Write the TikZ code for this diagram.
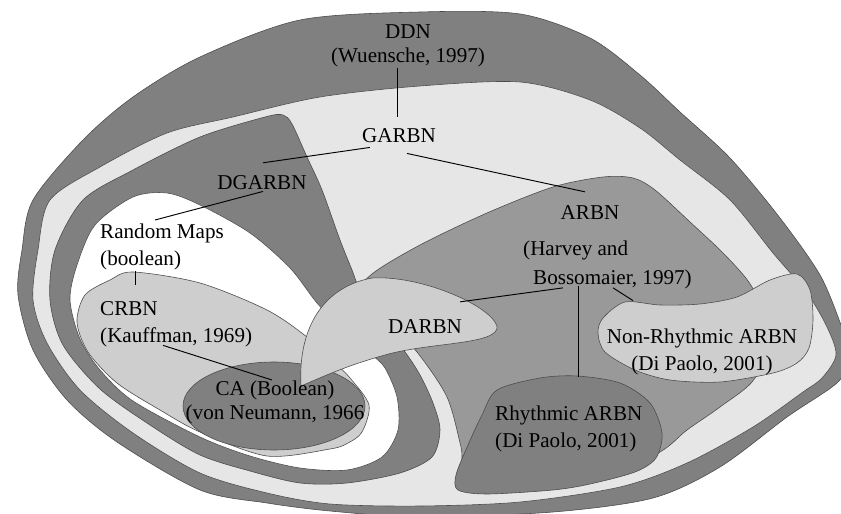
\documentclass[tikz,border=0pt]{standalone}
\usepackage{fontspec}
\setmainfont{Liberation Serif}
\usetikzlibrary{calc}

\definecolor{shadedark}{RGB}{128,128,128}
\definecolor{shademid}{RGB}{153,153,153}
\definecolor{shadepale}{RGB}{206,206,206}
\definecolor{shadelight}{RGB}{230,230,230}

\begin{document}
\begin{tikzpicture}[x=0.03cm, y=-0.03cm,
  blob/.style={draw=black!70, line width=0.5pt},
  lbl/.style={font=\fontsize{18}{23}\selectfont, inner sep=0pt, text=black},
  leader/.style={draw=black, line width=0.8pt}
]
  \useasboundingbox (0,0) rectangle (841,514);
  \fill[white] (0,0) rectangle (841,514);
  \clip (0,0) rectangle (841,514);

  % nested sets, outermost first
  \draw[blob, fill=shadedark] plot[smooth cycle] coordinates {
    (300,20) (420,12) (520,14) (590,38) (640,75) (680,112) (730,158)
    (780,218) (820,275) (841,325) (850,355) (838,382) (787,417) (720,467)
    (653,498) (553,512) (420,517) (330,511) (267,503) (200,490) (117,442)
    (67,400) (33,350) (18,295) (22,250) (33,200) (83,140) (133,97) (200,57)};
  \draw[blob, fill=shadelight] plot[smooth cycle] coordinates {
    (320,97) (420,86) (520,82) (590,100) (640,128) (680,160) (730,200)
    (773,253) (807,293) (827,327) (836,355) (822,378) (803,392) (753,427)
    (687,463) (620,487) (520,502) (420,506) (330,504) (267,493) (200,473)
    (133,433) (80,390) (47,343) (33,300) (38,250) (50,200) (100,167)
    (167,133) (233,117)};
  \draw[blob, fill=shadedark] plot[smooth cycle] coordinates {
    (283,115) (292,124) (307,157) (322,190) (340,240) (352,270) (362,295)
    (385,328) (405,352) (420,375) (433,403) (440,430) (432,457) (400,473)
    (347,483) (300,483) (250,471) (200,455) (150,425) (100,389) (63,345)
    (50,300) (55,250) (83,200) (133,170) (200,137) (265,117)};
  \draw[blob, fill=white] plot[smooth cycle] coordinates {
    (77,265) (95,225) (133,197) (167,193) (200,205) (250,233) (290,268)
    (317,303) (345,332) (372,355) (385,368) (397,397) (398,430) (382,457)
    (347,470) (300,468) (250,456) (200,437) (133,401) (100,370) (80,339)
    (70,300)};
  \draw[blob, fill=shadepale] plot[smooth cycle] coordinates {
    (110,280) (133,272) (200,283) (267,310) (307,337) (332,360) (350,378)
    (369,405) (362,432) (348,443) (330,449) (267,456) (200,432) (160,410)
    (117,383) (88,352) (77,322) (85,295)};
  \draw[blob, fill=shadedark] (274,406) ellipse [x radius=91, y radius=44];
  \draw[blob, fill=shademid] plot[smooth cycle] coordinates {
    (358,296) (372,274) (420,245) (487,213) (553,187) (603,177) (633,178)
    (655,190) (690,222) (725,255) (752,287) (768,330) (755,378) (720,407)
    (687,430) (660,452) (600,480) (520,490) (467,475) (461,447) (447,397)
    (417,352) (390,325)};
  \draw[blob, fill=shadepale] (301,386) .. controls (298,335) and (318,288) .. (372,278)
    .. controls (420,275) and (490,305) .. (497,326)
    .. controls (500,345) and (430,342) .. (385,355)
    .. controls (345,366) and (320,378) .. (301,386) -- cycle;
  \draw[blob, fill=shadepale] plot[smooth cycle] coordinates {
    (603,318) (625,302) (660,305) (700,304) (737,297) (770,280) (797,274)
    (810,290) (813,320) (809,348) (797,363) (773,373) (720,382) (670,380)
    (635,370) (605,352) (598,333)};
  \draw[blob, fill=shadedark] plot[smooth cycle] coordinates {
    (497,390) (540,378) (577,376) (620,383) (650,403) (662,433) (656,458)
    (635,472) (590,484) (553,490) (487,494) (458,490) (456,475) (468,445)
    (482,415)};

  % labels
  \node[lbl, align=center, anchor=north] (ddn) at (408,24) {DDN\\[-2.5pt](Wuensche, 1997)};
  \node[lbl, anchor=base] (garbn) at (399,143) {GARBN};
  \node[lbl, anchor=base] (dgarbn) at (262,190) {DGARBN};
  \node[lbl, align=left, anchor=north west] (rmaps) at (100,224) {Random Maps\\(boolean)};
  \node[lbl, align=left, anchor=north west] (crbn) at (100,301) {CRBN\\(Kauffman, 1969)};
  \node[lbl, align=center, anchor=north] (ca) at (275,380.4) {CA (Boolean)\\[-2.5pt](von Neumann, 1966};
  \node[lbl, anchor=base] (arbn) at (590,220) {ARBN};
  \node[lbl, align=left, anchor=north west] (harvey) at (523,240.4)
    {(Harvey and\\[2pt]\hspace*{8.5pt}Bossomaier, 1997)};
  \node[lbl, anchor=base] (darbn) at (425,333) {DARBN};
  \node[lbl, align=center, anchor=north] (nrarbn) at (702,328.6) {Non-Rhythmic ARBN\\(Di Paolo, 2001)};
  \node[lbl, align=left, anchor=north west] (rarbn) at (495,405.6) {Rhythmic ARBN\\(Di Paolo, 2001)};

  % leader lines
  \draw[leader] ($(ddn.south)+(-11,1.4)$) -- ($(garbn.north)+(-2,-12)$);
  \draw[leader] ($(garbn.south west)+(8,4)$) -- ($(dgarbn.north)+(1,-13)$);
  \draw[leader] ($(garbn.south)+(8,10)$) -- ($(arbn.north)+(-5,-14)$);
  \draw[leader] ($(dgarbn.south)+(1,1)$) -- ($(rmaps.north west)+(55,-4)$);
  \draw[leader] ($(rmaps.south west)+(35,0)$) -- ($(crbn.north west)+(35,-16)$);
  \draw[leader] ($(crbn.south west)+(63,-1.5)$) -- ($(ca.north)+(-3,-0.4)$);
  \draw[leader] ($(harvey.south west)+(40,-1.4)$) -- ($(darbn.north east)+(-2,-17)$);
  \draw[leader] ($(harvey.south west)+(55,-3.4)$) -- ($(rarbn.north west)+(83,-28.6)$);
  \draw[leader] ($(harvey.south west)+(90,-1.4)$) -- ($(nrarbn.north)+(-69,-28)$);
\end{tikzpicture}
\end{document}
